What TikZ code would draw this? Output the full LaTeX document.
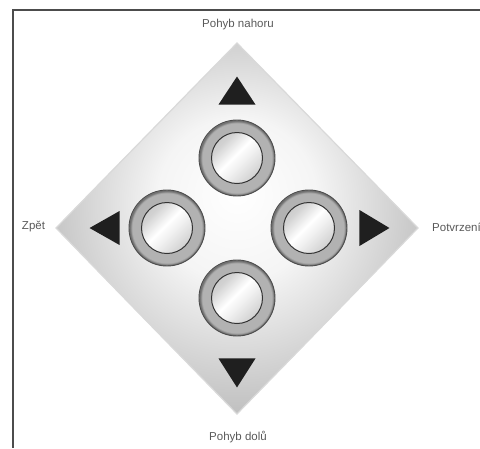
\documentclass[tikz,border=0pt]{standalone}
\usepackage{fontspec}
\setmainfont{Liberation Sans}
\usetikzlibrary{positioning, calc}

\pgfdeclareradialshading{padshade}{\pgfpoint{0bp}{5bp}}{color(0bp)=(white); color(11bp)=(white!96!black); color(36bp)=(gray!72); color(50bp)=(gray!80)}
\pgfdeclareradialshading{ringshade}{\pgfpointorigin}{color(0bp)=(black!30); color(23bp)=(black!30); color(24.5bp)=(black!60); color(28bp)=(white); color(31bp)=(black!20); color(34bp)=(black!40); color(36bp)=(black!55); color(50bp)=(black!55)}
\pgfdeclarehorizontalshading{faceshade}{100bp}{color(0bp)=(gray!60); color(30bp)=(gray!35); color(47bp)=(white); color(57bp)=(white!88!gray); color(100bp)=(gray!70)}

\begin{document}
\begin{tikzpicture}[
    x=1pt, y=-1pt,
    frame/.style={draw=black!70, line width=2pt},
    pad/.style={draw=gray!30, line width=1.2pt, shading=padshade},
    ring/.style={circle, draw=black!70, line width=0.9pt, minimum size=76pt, inner sep=0pt, shade, shading=ringshade},
    face/.style={circle, draw=black!80, line width=1pt, minimum size=51pt, inner sep=0pt, shade, shading=faceshade, shading angle=-45},
    tip/.style={fill=black!88},
    padtext/.style={text=black!65, inner sep=0pt, font=\fontsize{11.5}{13}\selectfont}
]
\useasboundingbox (0,0) rectangle (480,448);

% Frame
\draw[frame] (480,9.5) -- (13,9.5) -- (13,448);

% Pad
\coordinate (ptop) at (237,43);
\coordinate (pright) at (418,228);
\coordinate (pbottom) at (237,414);
\coordinate (pleft) at (56,228);
\shade[pad] (ptop) -- (pright) -- (pbottom) -- (pleft) -- cycle;

% Buttons
\node[ring] (up) at (237,158) {};
\node[ring] (left) at (167,228) {};
\node[ring] (right) at (309,228) {};
\node[ring] (down) at (237,298) {};
\node[face] (upface) at (up.center) {};
\node[face] (leftface) at (left.center) {};
\node[face] (rightface) at (right.center) {};
\node[face] (downface) at (down.center) {};

% Arrows
\fill[tip] ($(up.north)+(-18.5,-15)$) -- ($(up.north)+(18.5,-15)$) -- ($(up.north)+(0,-43)$) -- cycle;
\fill[tip] ($(left.west)+(-9,-17)$) -- ($(left.west)+(-9,17)$) -- ($(left.west)+(-39,0)$) -- cycle;
\fill[tip] ($(right.east)+(12,-18)$) -- ($(right.east)+(12,18)$) -- ($(right.east)+(42,0)$) -- cycle;
\fill[tip] ($(down.south)+(-18.5,22)$) -- ($(down.south)+(18.5,22)$) -- ($(down.south)+(0,51)$) -- cycle;

% Labels
\node[padtext] (uptext) at (238,25) {Pohyb nahoru};
\node[padtext] (lefttext) at (33.5,227) {Zpět};
\node[padtext, anchor=west] (righttext) at (432,227) {Potvrzení};
\node[padtext] (downtext) at (238,437) {Pohyb dolů};

\end{tikzpicture}
\end{document}
